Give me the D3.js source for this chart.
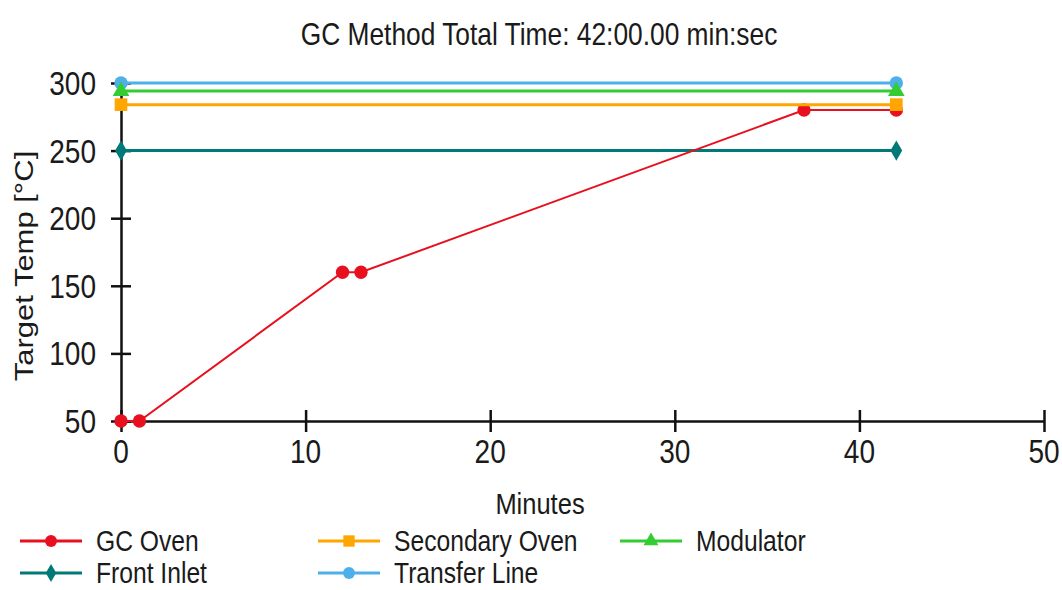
<!DOCTYPE html>
<html><head><meta charset="utf-8">
<script src="https://cdn.jsdelivr.net/npm/d3@7"></script>
<style>
body{margin:0;background:#fff;}
svg text{font-family:"Liberation Sans",Arial,sans-serif;fill:#1a1a1a;}
</style></head><body>
<svg id="chart" width="1062" height="590"></svg>
<script>
const title = "GC Method Total Time: 42:00.00 min:sec";
const xTicks = [0,10,20,30,40,50];
const yTicks = [50,100,150,200,250,300];
const seriesNames = ["GC Oven","Secondary Oven","Modulator","Front Inlet","Transfer Line"];
const seriesColors = ["#e8101e","#ffa600","#33cc33","#007a78","#4db0ea"];
const seriesSymbols = ["circle","square","triangle","diamond","circle"];
const gcOvenX = [0,1,12,13,37,42];
const gcOvenY = [50,50,160,160,280,280];
const secondaryOvenX = [0,42];
const secondaryOvenY = [284,284];
const modulatorX = [0,42];
const modulatorY = [294,294];
const frontInletX = [0,42];
const frontInletY = [250,250];
const transferLineX = [0,42];
const transferLineY = [300,300];

const seriesX = [gcOvenX,secondaryOvenX,modulatorX,frontInletX,transferLineX];
const seriesY = [gcOvenY,secondaryOvenY,modulatorY,frontInletY,transferLineY];

const SX = 0.85; // horizontal condensation of text
const FS = 31;

const svg = d3.select("#chart");
const x = d3.scaleLinear().domain([0,50]).range([121,1044]);
const y = d3.scaleLinear().domain([50,300]).range([421,83]);

function ctext(px,py,txt,anchor,size){
  return svg.append("text")
    .attr("transform",`translate(${px},${py}) scale(${SX},1)`)
    .attr("text-anchor",anchor||"start")
    .style("font-size",(size||FS)+"px").text(txt);
}

ctext(539,45,title,"middle",31);

// axes
const gx = svg.append("g").attr("transform","translate(0,421)")
  .call(d3.axisBottom(x).tickValues(xTicks).tickSize(0).tickFormat(""));
gx.select(".domain").attr("stroke","#111").attr("stroke-width",2.5);
gx.selectAll(".tick").append("line").attr("y1",-11).attr("y2",11).attr("stroke","#111").attr("stroke-width",2.5);
xTicks.forEach(t=>ctext(x(t),463,String(t),"middle",33));

const gy = svg.append("g").attr("transform","translate(121,0)")
  .call(d3.axisLeft(y).tickValues(yTicks).tickSize(0).tickFormat(""));
gy.select(".domain").attr("stroke","#111").attr("stroke-width",2.5);
gy.selectAll(".tick").append("line").attr("x1",-10).attr("x2",10).attr("stroke","#111").attr("stroke-width",2.5);
yTicks.forEach(t=>ctext(96,y(t)+12,String(t),"end",33));

svg.append("text").attr("transform",`translate(33,266) rotate(-90) scale(1,${SX})`).attr("text-anchor","middle")
  .style("font-size","31px").text("Target Temp [°C]");
ctext(540,514,"Minutes","middle",30);

const symMap = {circle:d3.symbolCircle,square:d3.symbolSquare,triangle:d3.symbolTriangle,diamond:d3.symbolDiamond};
const symSize = {circle:140,square:160,triangle:120,diamond:120};
const line = d3.line().x(d=>x(d[0])).y(d=>y(d[1]));

// draw order
const order = [3,4,2,0,1];
order.forEach(i=>{
  const pts = seriesX[i].map((v,k)=>[v,seriesY[i][k]]);
  svg.append("path").datum(pts).attr("d",line).attr("fill","none")
    .attr("stroke",seriesColors[i]).attr("stroke-width", i===0?2:3);
  svg.selectAll(null).data(pts).enter().append("path")
    .attr("transform",d=>`translate(${x(d[0])},${y(d[1])})`)
    .attr("d",d3.symbol().type(symMap[seriesSymbols[i]]).size(symSize[seriesSymbols[i]]))
    .attr("fill",seriesColors[i]);
});

// legend
const legPos = [[20,541],[318,541],[620,541],[20,573],[318,573]];
seriesNames.forEach((n,i)=>{
  const [lx,ly] = legPos[i];
  const g = svg.append("g").attr("transform",`translate(${lx},${ly})`);
  g.append("line").attr("x1",0).attr("x2",62).attr("y1",0).attr("y2",0)
    .attr("stroke",seriesColors[i]).attr("stroke-width",3);
  g.append("path").attr("transform","translate(31,0)")
    .attr("d",d3.symbol().type(symMap[seriesSymbols[i]]).size(symSize[seriesSymbols[i]]*0.8))
    .attr("fill",seriesColors[i]);
  ctext(lx+76,ly+10,n,"start",29);
});
</script></body></html>
